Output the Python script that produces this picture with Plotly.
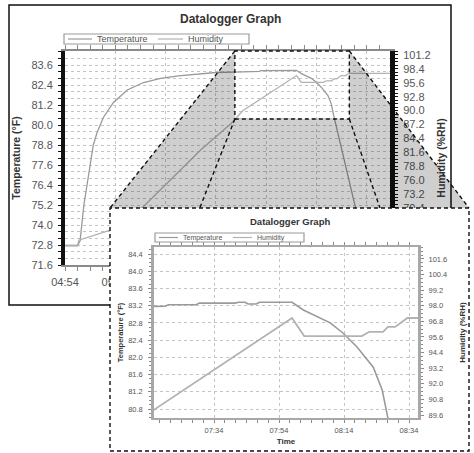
import plotly.graph_objects as go

DAY = "2024-01-01 "

# ---------------- data ----------------
series_names = ["Temperature", "Humidity"]
series_colors = ["#9a9a9a", "#b2b2b2"]

temp_times = ["04:54:00", "05:04:00", "05:06:00", "05:09:00", "05:11:30", "05:14:00", "05:16:30",
              "05:19:30", "05:24:30", "05:32:30", "05:43:30", "05:56:30", "06:10:00", "06:24:00",
              "06:54:00", "07:15:30", "07:19:00", "07:20:00", "07:28:30", "07:29:30", "07:40:30",
              "07:41:30", "07:43:30", "07:44:30", "07:47:00", "07:48:00", "07:58:00", "08:01:30",
              "08:09:45", "08:13:45", "08:18:00", "08:23:00", "08:25:45", "08:27:30", "08:39:30",
              "08:45:00", "08:50:00"]
temp_values = [72.75, 72.75, 73.05, 75.2, 76.4, 77.6, 78.8,
               79.55, 80.45, 81.35, 82.1, 82.55, 82.8, 82.95,
               83.15, 83.19, 83.19, 83.22, 83.22, 83.26, 83.26,
               83.28, 83.28, 83.24, 83.24, 83.28, 83.28, 83.10,
               82.80, 82.56, 82.24, 81.77, 81.24, 80.59, 76.7,
               75.0, 73.5]

hum_times = ["04:54:00", "05:04:00", "05:05:00", "05:30:00", "05:56:00", "06:42:00", "07:06:00",
             "07:15:30", "07:58:00", "08:01:45", "08:19:30", "08:21:45", "08:26:00", "08:27:30",
             "08:29:45", "08:33:30", "08:37:00", "08:39:30", "09:12:18"]
hum_values = [62.9, 62.9, 63.9, 65.9, 70.6, 82.1, 87.4,
              90.0, 97.06, 95.67, 95.67, 96.0, 96.0, 96.37,
              96.37, 97.06, 97.06, 97.5, 97.5]

main_time_ticks = ["04:54", "05:34", "06:14", "06:54", "07:34", "08:14", "08:54"]
main_temp_ticks = [71.6, 72.8, 74.0, 75.2, 76.4, 77.6, 78.8, 80.0, 81.2, 82.4, 83.6]
main_hum_ticks = [59.2, 62.0, 64.8, 67.6, 70.4, 73.2, 76.0, 78.8, 81.6, 84.4, 87.2, 90.0,
                  92.8, 95.6, 98.4, 101.2]
inset_time_ticks = ["07:34", "07:54", "08:14", "08:34"]
inset_temp_ticks = [80.8, 81.2, 81.6, 82.0, 82.4, 82.8, 83.2, 83.6, 84.0, 84.4]
inset_hum_ticks = [89.6, 90.8, 92.0, 93.2, 94.4, 95.6, 96.8, 98.0, 99.2, 100.4, 101.6]

main_time_range = ["04:54:00", "09:12:18"]
main_temp_range = [71.6, 84.44]
main_hum_range = [58.9, 102.0]
inset_time_range = ["07:15:32", "08:36:46"]
inset_temp_range = [80.591, 84.563]
inset_hum_range = [89.37, 102.52]
zoom_time_window = ["07:09:00", "08:40:00"]
zoom_temp_low = 80.36

# ---------------- layout geometry (pixels of the 474x453 page) ----------------
W, H = 474, 453
FONT = "Liberation Sans"
MAIN_PLOT = (65, 51, 390, 265)       # left, top, right, bottom
MAIN_FRAME = (9, 5, 451, 305)
INSET_FRAME = (110, 208, 469, 451)
INSET_PLOT = (154, 247, 418, 418)


def px(x):
    return x / W


def py(y):
    return 1 - y / H


def tmin(t):
    parts = [float(p) for p in t.split(":")]
    while len(parts) < 3:
        parts.append(0.0)
    return parts[0] * 60 + parts[1] + parts[2] / 60


def main_x_pixel(t):
    l, _, r, _ = MAIN_PLOT
    t0, t1 = tmin(main_time_range[0]), tmin(main_time_range[1])
    return l + (tmin(t) - t0) / (t1 - t0) * (r - l)


def main_y_pixel(v):
    _, top, _, bot = MAIN_PLOT
    return bot - (v - main_temp_range[0]) / (main_temp_range[1] - main_temp_range[0]) * (bot - top)


def stamp(ts):
    return [DAY + t for t in ts]


fig = go.Figure()

# main chart
fig.add_trace(go.Scatter(x=stamp(temp_times), y=temp_values, mode="lines", name=series_names[0],
                         line=dict(color=series_colors[0], width=1.3), xaxis="x", yaxis="y",
                         showlegend=False))
fig.add_trace(go.Scatter(x=stamp(hum_times), y=hum_values, mode="lines", name=series_names[1],
                         line=dict(color=series_colors[1], width=1.3), xaxis="x", yaxis="y2",
                         showlegend=False))
# blank subplot that paints the inset's white card above the main chart
fig.add_trace(go.Scatter(x=[], y=[], xaxis="x2", yaxis="y3", showlegend=False, hoverinfo="skip"))
# inset (zoomed) chart
fig.add_trace(go.Scatter(x=stamp(temp_times), y=temp_values, mode="lines", name=series_names[0],
                         line=dict(color=series_colors[0], width=1.6), xaxis="x3", yaxis="y4",
                         showlegend=False))
fig.add_trace(go.Scatter(x=stamp(hum_times), y=hum_values, mode="lines", name=series_names[1],
                         line=dict(color=series_colors[1], width=1.8), xaxis="x3", yaxis="y5",
                         showlegend=False))

GRID = "#c4c4c4"
TICKC = "#555555"


def fmt(vals):
    return ["%.1f" % v for v in vals]


l, t, r, b = MAIN_PLOT
il, it, ir, ib = INSET_PLOT
fl, ft, fr, fb = INSET_FRAME

fig.update_layout(
    width=W, height=H, template="none",
    margin=dict(l=0, r=0, t=0, b=0, pad=0),
    paper_bgcolor="white", plot_bgcolor="white",
    font=dict(family=FONT, color=TICKC),
    showlegend=False,
    xaxis=dict(
        domain=[px(l), px(r)], anchor="y", type="date",
        range=stamp(main_time_range),
        tickvals=stamp(main_time_ticks), ticktext=main_time_ticks,
        tickfont=dict(size=11, color=TICKC),
        showgrid=True, gridcolor=GRID, griddash="dot", gridwidth=1,
        showline=True, linecolor="#8a8a8a", linewidth=1.5, mirror="allticks",
        ticks="outside", ticklen=4, tickcolor="#8a8a8a",
        minor=dict(tickmode="linear", tick0=DAY + "04:54", dtick=600000,
                   ticks="outside", ticklen=2, tickcolor="#8a8a8a"),
        zeroline=False, automargin=False, ticklabelstandoff=2,
    ),
    yaxis=dict(
        domain=[py(b), py(t)], anchor="x", range=main_temp_range,
        tickvals=main_temp_ticks, ticktext=fmt(main_temp_ticks),
        tickfont=dict(size=11, color=TICKC),
        showgrid=True, gridcolor=GRID, griddash="dot", gridwidth=1,
        showline=True, linecolor="#111111", linewidth=4,
        ticks="outside", ticklen=3, tickcolor="#111111",
        minor=dict(tickmode="linear", tick0=71.6, dtick=0.4, ticks="outside", ticklen=3,
                   tickcolor="#111111", showgrid=True, gridcolor=GRID, griddash="dot"),
        title=dict(text="Temperature (°F)", standoff=10,
                   font=dict(size=10.5, color="#333333", weight="bold")),
        zeroline=False, automargin=False, ticklabelstandoff=3,
    ),
    yaxis2=dict(
        overlaying="y", side="right", anchor="x", range=main_hum_range,
        tickvals=main_hum_ticks, ticktext=fmt(main_hum_ticks),
        tickfont=dict(size=11, color=TICKC),
        showgrid=False, showline=True, linecolor="#111111", linewidth=5,
        ticks="outside", ticklen=3, tickcolor="#111111",
        minor=dict(tickmode="linear", tick0=101.2, dtick=0.7, ticks="outside", ticklen=3,
                   tickcolor="#111111"),
        title=dict(text="Humidity (%RH)", standoff=9,
                   font=dict(size=10.5, color="#333333", weight="bold")),
        zeroline=False, automargin=False, ticklabelstandoff=3,
    ),
    xaxis2=dict(domain=[px(fl), px(fr)], anchor="y3", range=[0, 1], visible=False),
    yaxis3=dict(domain=[0, py(ft)], anchor="x2", range=[0, 1], visible=False),
    xaxis3=dict(
        domain=[px(il), px(ir)], anchor="y4", type="date",
        range=stamp(inset_time_range),
        tickvals=stamp(inset_time_ticks), ticktext=inset_time_ticks,
        tickfont=dict(size=7.5, color=TICKC),
        showgrid=True, gridcolor=GRID, griddash="dot", gridwidth=1,
        showline=True, linecolor="#a8a8a8", linewidth=2, mirror="allticks",
        ticks="outside", ticklen=3, tickcolor="#8a8a8a",
        minor=dict(tickmode="linear", tick0=DAY + "07:34", dtick=200000,
                   ticks="outside", ticklen=2, tickcolor="#8a8a8a"),
        title=dict(text="Time", standoff=4, font=dict(size=8, color="#333333", weight="bold")),
        zeroline=False, automargin=False, ticklabelstandoff=1,
    ),
    yaxis4=dict(
        domain=[py(ib), py(it)], anchor="x3", range=inset_temp_range,
        tickvals=inset_temp_ticks, ticktext=fmt(inset_temp_ticks),
        tickfont=dict(size=7.5, color=TICKC),
        showgrid=True, gridcolor=GRID, griddash="dot", gridwidth=1,
        showline=True, linecolor="#a8a8a8", linewidth=2.5,
        ticks="outside", ticklen=3, tickcolor="#8a8a8a",
        minor=dict(tickmode="linear", tick0=80.8, dtick=0.1, ticks="outside", ticklen=2,
                   tickcolor="#8a8a8a"),
        title=dict(text="Temperature (°F)", standoff=4,
                   font=dict(size=7.5, color="#333333", weight="bold")),
        zeroline=False, automargin=False, ticklabelstandoff=4,
    ),
    yaxis5=dict(
        overlaying="y4", side="right", anchor="x3", range=inset_hum_range,
        tickvals=inset_hum_ticks, ticktext=fmt(inset_hum_ticks),
        tickfont=dict(size=7.5, color=TICKC),
        showgrid=False, showline=True, linecolor="#a8a8a8", linewidth=3,
        ticks="outside", ticklen=3, tickcolor="#8a8a8a",
        minor=dict(tickmode="linear", tick0=89.6, dtick=0.3, ticks="outside", ticklen=2,
                   tickcolor="#8a8a8a"),
        title=dict(text="Humidity (%RH)", standoff=14,
                   font=dict(size=8, color="#333333", weight="bold")),
        zeroline=False, automargin=False, ticklabelstandoff=3,
    ),
)

shapes = []
annotations = []

# main chart frame (below everything, hidden by the inset card)
ml, mt, mr, mb = MAIN_FRAME
shapes.append(dict(type="rect", xref="paper", yref="paper", x0=px(ml), x1=px(mr), y0=py(mb), y1=py(mt),
                   line=dict(color="#111111", width=1.5), fillcolor="rgba(0,0,0,0)", layer="below"))

# zoom window on the main chart, from the data window
zx0, zx1 = main_x_pixel(zoom_time_window[0]), main_x_pixel(zoom_time_window[1])
zy0, zy1 = main_y_pixel(main_temp_range[1]), main_y_pixel(zoom_temp_low)
inner_l = fl + 0.25 * (fr - fl)
inner_r = fl + 0.752 * (fr - fl)


def P(x, y):
    return "%.5f,%.5f" % (px(x), py(y))


path = ("M " + P(zx0, zy0) + " L " + P(fl, ft) + " L " + P(fr, ft) + " L " + P(zx1, zy0) +
        " L " + P(zx1, zy1) + " L " + P(zx0, zy1) + " Z")
shapes.append(dict(type="path", xref="paper", yref="paper", path=path,
                   fillcolor="rgba(0,0,0,0.19)", line=dict(width=0), layer="above"))

DASH = dict(color="#111111", width=1.4, dash="4px,3px")
for (x0, y0, x1, y1) in [(zx0, zy0, fl, ft), (zx0, zy1, inner_l, ft),
                         (zx1, zy1, inner_r, ft), (zx1, zy0, fr, ft)]:
    shapes.append(dict(type="line", xref="paper", yref="paper", x0=px(x0), y0=py(y0),
                       x1=px(x1), y1=py(y1), line=DASH, layer="above"))
shapes.append(dict(type="rect", xref="paper", yref="paper", x0=px(zx0), x1=px(zx1),
                   y0=py(zy1), y1=py(zy0), line=DASH, fillcolor="rgba(0,0,0,0)", layer="above"))
shapes.append(dict(type="rect", xref="paper", yref="paper", x0=px(fl), x1=px(fr),
                   y0=py(fb), y1=py(ft), line=DASH, fillcolor="rgba(0,0,0,0)", layer="above"))

# titles
annotations.append(dict(text="Datalogger Graph", xref="paper", yref="paper", x=px(230), y=py(19),
                        xanchor="center", yanchor="middle", showarrow=False,
                        font=dict(size=12, color="#333333", weight="bold")))
annotations.append(dict(text="Datalogger Graph", xref="paper", yref="paper", x=px(290), y=py(221),
                        xanchor="center", yanchor="middle", showarrow=False,
                        font=dict(size=9.5, color="#333333", weight="bold")))


# legends drawn as keyed boxes
def add_legend(box, entries, fsize):
    x0, y0, x1, y1 = box
    shapes.append(dict(type="rect", xref="paper", yref="paper", x0=px(x0), x1=px(x1),
                       y0=py(y1), y1=py(y0), line=dict(color="#9a9a9a", width=1.2),
                       fillcolor="white", layer="above"))
    ym = (y0 + y1) / 2
    for (ls, le, tx), name, col in zip(entries, series_names, series_colors):
        shapes.append(dict(type="line", xref="paper", yref="paper", x0=px(ls), x1=px(le),
                           y0=py(ym), y1=py(ym), line=dict(color=col, width=1.2), layer="above"))
        annotations.append(dict(text=name, xref="paper", yref="paper", x=px(tx), y=py(ym),
                                xanchor="left", yanchor="middle", showarrow=False,
                                font=dict(size=fsize, color="#555555")))


add_legend((64, 34, 249, 44), [(68, 92, 95), (158, 183, 186)], 9)
add_legend((155, 233, 304, 242), [(159, 178, 181), (233, 252, 255)], 7)

fig.update_layout(shapes=shapes, annotations=annotations)
fig.write_html("out.html", config={"displayModeBar": False},
               post_script="document.body.style.margin='0px';document.body.style.overflow='hidden';")
